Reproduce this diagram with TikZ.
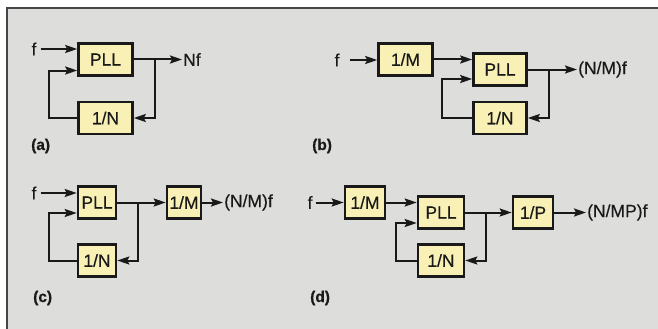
\documentclass[tikz,border=0pt]{standalone}
\usepackage{fontspec}
\setmainfont{Liberation Sans}[FakeBold=0.4]
\newfontfamily\tagfont{Liberation Sans}[FakeBold=0.6]
\usetikzlibrary{arrows.meta}
\definecolor{bg}{RGB}{221,221,219}
\definecolor{boxfill}{RGB}{248,240,180}
\definecolor{framec}{RGB}{70,70,70}
\definecolor{ink}{RGB}{25,25,25}
\begin{document}
\begin{tikzpicture}[x=1pt,y=-1pt,
  blk/.style={draw=ink, line width=2.6pt, fill=boxfill, minimum height=32pt, inner sep=0pt, text=ink, font=\fontsize{17.5}{20}\selectfont},
  lbl/.style={inner sep=1pt, text=ink, font=\fontsize{17.5}{20}\selectfont},
  tag/.style={inner sep=0pt, anchor=west, text=ink, font=\fontsize{15.5}{18}\selectfont\tagfont\bfseries},
  arr/.style={draw=ink, line width=2pt, -{Stealth[length=12pt,width=8pt,inset=2pt]}},
]
\useasboundingbox (0,0) rectangle (658,329);
\fill[white] (0,0) rectangle (658,329);
\fill[bg] (7,8) rectangle (658,329);
\draw[framec, line width=2pt] (7,329) -- (7,8) -- (658,8);

% (a)
\node[blk, minimum width=54pt] (pa) at (105.5,59.5) {PLL};
\node[blk, minimum width=54pt] (na) at (105.5,118) {1/N};
\node[lbl] (fa) at (34,49) {f};
\draw[arr, shorten <=3pt] (fa.east) -- (fa.east -| pa.west);
\node[lbl, anchor=west] (oa) at (182,59.5) {Nf};
\draw[arr] (pa.east) -- (oa.west);
\coordinate (ja) at (155,59.5);
\draw[arr] (ja) |- (na.east);
\draw[arr] (na.west) -- ++(-28,0) |- ([yshift=-11pt]pa.west);

% (b)
\node[lbl] (fb) at (337,60) {f};
\node[blk, minimum width=54pt] (mb) at (405.5,59.5) {1/M};
\node[blk, minimum width=53pt] (pb) at (500,69.5) {PLL};
\node[blk, minimum width=53pt] (nb) at (500,118) {1/N};
\node[lbl, anchor=west] (ob) at (577,69.5) {(N/M)f};
\draw[arr, shorten <=9pt] (fb.east) -- (fb.east -| mb.west);
\draw[arr] (mb.east) -- (mb.east -| pb.west);
\draw[arr] (pb.east) -- (ob.west);
\coordinate (jb) at (549,69.5);
\draw[arr] (jb) |- (nb.east);
\draw[arr] (nb.west) -- ++(-30,0) |- ([yshift=-9.5pt]pb.west);

% (c)
\node[lbl] (fc) at (34,193) {f};
\node[blk, minimum width=38pt] (pc) at (97,202.5) {PLL};
\node[blk, minimum width=38pt] (nc) at (97,260.5) {1/N};
\node[blk, minimum width=34pt] (mc) at (184,202.5) {1/M};
\node[lbl, anchor=west] (oc) at (223,202.5) {(N/M)f};
\draw[arr, shorten <=3pt] (fc.east) -- (fc.east -| pc.west);
\draw[arr] (pc.east) -- (mc.west);
\coordinate (jc) at (138,202.5);
\draw[arr] (jc) |- (nc.east);
\draw[arr] (nc.west) -- ++(-28,0) |- ([yshift=-10.5pt]pc.west);
\draw[arr] (mc.east) -- (oc.west);

% (d)
\node[lbl] (fd) at (310,202.5) {f};
\node[blk, minimum width=40pt] (md) at (365,202.5) {1/M};
\node[blk, minimum width=46pt] (pd) at (441,212.5) {PLL};
\node[blk, minimum width=46pt] (nd) at (441,260.5) {1/N};
\node[blk, minimum width=40pt] (pp) at (533,212.5) {1/P};
\node[lbl, anchor=west] (od) at (586,212.5) {(N/MP)f};
\draw[arr, shorten <=2pt] (fd.east) -- (fd.east -| md.west);
\draw[arr] (md.east) -- (md.east -| pd.west);
\draw[arr] (pd.east) -- (pp.west);
\coordinate (jd) at (486,212.5);
\draw[arr] (jd) |- (nd.east);
\draw[arr] (nd.west) -- ++(-21,0) |- ([yshift=-10.5pt]pd.west);
\draw[arr] (pp.east) -- (od.west);

% tags
\node[tag] (ta) at (31,146) {(a)};
\node[tag] (tb) at (312,146) {(b)};
\node[tag] (tc) at (33,298) {(c)};
\node[tag] (td) at (310,298) {(d)};
\end{tikzpicture}
\end{document}
